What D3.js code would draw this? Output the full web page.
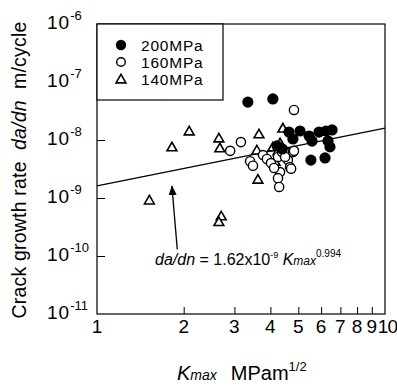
<!DOCTYPE html>
<html>
<head>
<meta charset="utf-8">
<script src="https://cdn.jsdelivr.net/npm/d3@7"></script>
<style>
  html, body { margin: 0; padding: 0; background: #fff; }
  svg { display: block; font-family: "Liberation Sans", Arial, Helvetica, sans-serif; }
</style>
</head>
<body>
<svg id="chart" width="397" height="387"></svg>
<script>
// ---- data (K_max in MPa·m^1/2, da/dn in m/cycle) ----
const series = ["200MPa", "160MPa", "140MPa"];

const k200 = [3.34, 4.08, 4.64, 4.79, 5.07, 5.45, 5.58, 5.90, 6.24, 6.55, 6.34, 6.44, 6.19, 5.53, 4.22, 4.40];
const v200 = [4.5e-8, 5.1e-8, 1.37e-8, 1.04e-8, 1.43e-8, 1.17e-8, 9.6e-9, 1.37e-8, 1.43e-8, 1.49e-8, 9.6e-9, 7.6e-9, 4.9e-9, 4.5e-9, 7.9e-9, 7.0e-9];

const k160 = [4.83, 3.16, 2.90, 3.40, 3.48, 3.77, 3.89, 4.02, 4.25, 4.39, 4.57, 4.60, 4.79, 4.68, 4.32, 4.25, 4.29, 4.12, 4.83, 4.72, 4.50];
const v160 = [3.3e-8, 9.2e-9, 6.5e-9, 4.3e-9, 3.6e-9, 5.5e-9, 4.7e-9, 4.0e-9, 5.1e-9, 6.2e-9, 6.0e-9, 4.5e-9, 6.2e-9, 3.4e-9, 2.8e-9, 2.2e-9, 1.55e-9, 3.3e-9, 6.5e-9, 3.2e-9, 5.1e-9];

const k140 = [1.52, 1.82, 2.09, 2.65, 2.67, 2.70, 2.65, 3.65, 3.59, 3.62, 4.08, 4.32, 4.42, 4.25, 4.46, 4.15];
const v140 = [9.2e-10, 7.6e-9, 1.43e-8, 1.08e-8, 7.3e-9, 4.9e-10, 3.9e-10, 1.27e-8, 6.7e-9, 2.1e-9, 7.6e-9, 8.9e-9, 1.6e-8, 6.5e-9, 6.7e-9, 4.3e-9];

// fit: da/dn = C * Kmax^m
const fitC = 1.62e-9;
const fitM = 0.994;
const fitK = [1, 10];

// arrow (from label toward fit line), in data units
const arrowFrom = [1.90, 1.3e-10];
const arrowTo = [1.82, 1.6e-9];

const xTickValues = [1, 2, 3, 4, 5, 6, 7, 8, 9, 10];
const xTickLabels = ["1", "2", "3", "4", "5", "6", "7", "8", "9", "10"];
const yTickExps = [-6, -7, -8, -9, -10, -11];

// ---- layout ----
const svg = d3.select("#chart");
const L = 97, R = 385, T = 24, B = 314;

const x = d3.scaleLog().domain([1, 10]).range([L, R]);
const y = d3.scaleLog().domain([1e-11, 1e-6]).range([B, T]);

// fit line (behind markers)
svg.append("path")
  .datum(fitK.map(k => [k, fitC * Math.pow(k, fitM)]))
  .attr("fill", "none").attr("stroke", "#000").attr("stroke-width", 1.3)
  .attr("d", d3.line().x(d => x(d[0])).y(d => y(d[1])));

// axes (inward ticks)
svg.append("g").attr("transform", `translate(0,${B})`)
  .call(d3.axisBottom(x).tickValues(xTickValues.slice(1, -1)).tickSizeInner(-7).tickSizeOuter(0).tickFormat(""))
  .call(g => g.select(".domain").remove())
  .call(g => g.selectAll("line").attr("stroke-width", 1));

svg.append("g").attr("transform", `translate(${L},0)`)
  .call(d3.axisLeft(y).tickValues(yTickExps.slice(1, -1).map(e => Math.pow(10, e))).tickSizeInner(-8).tickSizeOuter(0).tickFormat(""))
  .call(g => g.select(".domain").remove())
  .call(g => g.selectAll("line").attr("stroke-width", 1));

// frame
svg.append("rect").attr("x", L).attr("y", T).attr("width", R - L).attr("height", B - T)
  .attr("fill", "none").attr("stroke", "#000").attr("stroke-width", 1.2);

// x tick labels ("10" is set just right of the "9", as in the original)
svg.append("g").selectAll("text").data(xTickValues).join("text")
  .attr("x", d => d === 10 ? x(9) + 6 : x(d)).attr("y", B + 19)
  .attr("text-anchor", d => d === 10 ? "start" : "middle")
  .attr("font-size", 19).attr("letter-spacing", d => d === 10 ? -1 : 0)
  .text((d, i) => xTickLabels[i]);

// y tick labels 10^n
const yl = svg.append("g").selectAll("text").data(yTickExps).join("text")
  .attr("x", 47).attr("y", d => y(Math.pow(10, d)) + 5)
  .attr("font-size", 19).attr("letter-spacing", 1);
yl.append("tspan").text("10");
yl.append("tspan").attr("dy", -9).attr("font-size", 13).attr("letter-spacing", 0).text(d => String(d));

// y axis title
const yt = svg.append("text")
  .attr("transform", `translate(26,${(T + B) / 2 + 1}) rotate(-90)`)
  .attr("text-anchor", "middle").attr("font-size", 19.5).attr("letter-spacing", 0.2)
  .attr("xml:space", "preserve");
yt.append("tspan").text("Crack growth rate  ");
yt.append("tspan").attr("font-style", "italic").text("da/dn");
yt.append("tspan").text("  m/cycle");

// x axis title
const xt = svg.append("text").attr("x", 177).attr("y", 380).attr("font-size", 20).attr("xml:space", "preserve");
xt.append("tspan").attr("font-style", "italic").text("K");
xt.append("tspan").attr("font-style", "italic").attr("font-size", 14).text("max");
xt.append("tspan").attr("dx", 14).text("MPam");
xt.append("tspan").attr("dy", -9).attr("font-size", 13).text("1/2");

// markers
const tri = d3.symbol().type(d3.symbolTriangle).size(42);
const pts140 = k140.map((k, i) => [k, v140[i]]);
const pts160 = k160.map((k, i) => [k, v160[i]]);
const pts200 = k200.map((k, i) => [k, v200[i]]);

svg.append("g").selectAll("path").data(pts140).join("path")
  .attr("d", tri).attr("transform", d => `translate(${x(d[0])},${y(d[1]) + 1})`)
  .attr("fill", "#fff").attr("stroke", "#000").attr("stroke-width", 1.6);

svg.append("g").selectAll("circle").data(pts160).join("circle")
  .attr("cx", d => x(d[0])).attr("cy", d => y(d[1])).attr("r", 4.6)
  .attr("fill", "#fff").attr("stroke", "#000").attr("stroke-width", 1.4);

svg.append("g").selectAll("circle").data(pts200).join("circle")
  .attr("cx", d => x(d[0])).attr("cy", d => y(d[1])).attr("r", 5.6)
  .attr("fill", "#000");

// arrow
svg.append("defs").append("marker").attr("id", "ah")
  .attr("viewBox", "0 0 10 10").attr("refX", 9).attr("refY", 5)
  .attr("markerWidth", 10).attr("markerHeight", 10).attr("markerUnits", "userSpaceOnUse")
  .attr("orient", "auto")
  .append("path").attr("d", "M0,1 L10,5 L0,9 Z").attr("fill", "#000");
svg.append("line")
  .attr("x1", x(arrowFrom[0])).attr("y1", y(arrowFrom[1]))
  .attr("x2", x(arrowTo[0])).attr("y2", y(arrowTo[1]))
  .attr("stroke", "#000").attr("stroke-width", 1.3).attr("marker-end", "url(#ah)");

// equation
const eq = svg.append("text").attr("x", 155).attr("y", 265).attr("font-size", 16).attr("xml:space", "preserve");
eq.append("tspan").attr("font-style", "italic").text("da/dn");
eq.append("tspan").text(" = 1.62x10");
eq.append("tspan").attr("dy", -7).attr("font-size", 9).text("-9");
eq.append("tspan").attr("dy", 7).text(" ");
eq.append("tspan").attr("font-style", "italic").text("K");
eq.append("tspan").attr("font-style", "italic").attr("font-size", 12).text("max");
eq.append("tspan").attr("dy", -8).attr("font-size", 10).text("0.994");

// legend
const lg = svg.append("g");
lg.append("rect").attr("x", L).attr("y", T).attr("width", 223 - L).attr("height", 100 - T)
  .attr("fill", "#fff").attr("stroke", "#000").attr("stroke-width", 1.2);
const rows = [45, 62, 79];
lg.append("circle").attr("cx", 121).attr("cy", rows[0]).attr("r", 5.2).attr("fill", "#000");
lg.append("circle").attr("cx", 121).attr("cy", rows[1]).attr("r", 4.3).attr("fill", "#fff").attr("stroke", "#000").attr("stroke-width", 1.4);
lg.append("path").attr("d", tri).attr("transform", `translate(121,${rows[2] + 1})`).attr("fill", "#fff").attr("stroke", "#000").attr("stroke-width", 1.6);
lg.selectAll("text.lab").data(series).join("text").attr("class", "lab")
  .attr("x", 141).attr("y", (d, i) => rows[i] + 6)
  .attr("font-size", 15.5).attr("letter-spacing", 0.8).text(d => d);
</script>
</body>
</html>
